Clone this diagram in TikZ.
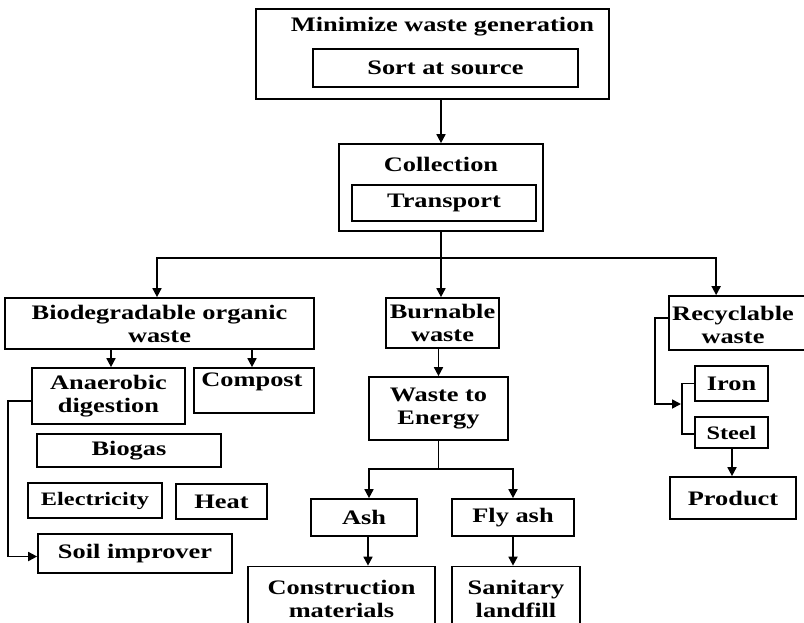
\documentclass[tikz,border=0pt]{standalone}
\usepackage{fontspec}
\setmainfont{Liberation Serif}[FakeStretch=1.28]
\usetikzlibrary{arrows.meta}
\begin{document}
\begin{tikzpicture}[x=1pt,y=-1pt,
  box/.style={draw, line width=1.7pt, inner sep=0pt, align=center},
  txt/.style={inner sep=0pt, align=center},
  arr/.style={-{Triangle[length=9pt,width=9pt]}, line width=1.7pt},
  ln/.style={line width=1.7pt},
  every node/.append style={font=\fontsize{20.6}{23}\selectfont\bfseries}]
\useasboundingbox[fill=white] (0,0) rectangle (804,622);
% top
\node[box, minimum width=353pt, minimum height=90pt] (top) at (432.5,54) {};
\node[txt] (toplbl) at (442.5,27) {Minimize waste generation};
\node[box, minimum width=265pt, minimum height=38pt] (sort) at (445.5,68) {Sort at source};
% collection
\node[box, minimum width=204pt, minimum height=87pt] (coll) at (441,187.5) {};
\node[txt] (colllbl) at (441,164) {Collection};
\node[box, minimum width=184pt, minimum height=36pt] (trans) at (444,203) {Transport};
% level 2
\node[box, minimum width=309pt, minimum height=51pt] (bio) at (159.5,323.5) {Biodegradable organic\\waste};
\node[box, minimum width=113pt, minimum height=50pt] (burn) at (442.5,323) {Burnable\\waste};
\node[box, minimum width=140pt, minimum height=54pt] (recy) at (739,323) {};
\node[txt] (recylbl) at (733,325) {Recyclable\\waste};
% biodegradable branch
\node[box, minimum width=153pt, minimum height=56pt] (anaer) at (108.5,396) {Anaerobic\\digestion};
\node[box, minimum width=120pt, minimum height=45pt] (comp) at (254,390.5) {};
\node[txt] (complbl) at (252,382) {Compost};
\node[box, minimum width=184pt, minimum height=33pt] (biogas) at (129,450.5) {Biogas};
\node[box, minimum width=134pt, minimum height=35pt, font=\fontsize{19}{22}\selectfont\bfseries] (elec) at (95,500.5) {Electricity};
\node[box, minimum width=91pt, minimum height=35pt] (heat) at (221.5,501.5) {Heat};
\node[box, minimum width=194pt, minimum height=39pt] (soil) at (135,553.5) {Soil improver};
% burnable branch
\node[box, minimum width=139pt, minimum height=63pt] (wte) at (438.5,408.5) {Waste to\\Energy};
\node[box, minimum width=106pt, minimum height=37pt] (ash) at (364,517.5) {Ash};
\node[box, minimum width=122pt, minimum height=37pt] (fly) at (513,517.5) {Fly ash};
\node[box, minimum width=187pt, minimum height=64pt] (constr) at (341.5,598.5) {Construction\\materials};
\node[box, minimum width=128pt, minimum height=64pt] (sanit) at (516,598.5) {Sanitary\\landfill};
% recyclable branch
\node[box, minimum width=73pt, minimum height=35pt] (iron) at (731.5,383.5) {Iron};
\node[box, minimum width=73pt, minimum height=31pt, font=\fontsize{19}{22}\selectfont\bfseries] (steel) at (731.5,432.5) {Steel};
\node[box, minimum width=126pt, minimum height=42pt] (prod) at (733,498) {Product};
% connectors
\draw[arr] (top.south -| coll.north) -- (coll.north);
\coordinate (j1) at (441,258);
\draw[ln] (coll.south) -- (j1);
\draw[arr] (j1) -| ([xshift=-2.5pt]bio.north);
\draw[arr] (j1) -- (j1 |- burn.north);
\draw[arr] (j1) -| ([xshift=48pt]recy.north west);
\draw[arr] ([xshift=2.5pt]anaer.north |- bio.south) -- ([xshift=2.5pt]anaer.north);
\draw[arr] ([xshift=-2pt]comp.north |- bio.south) -- ([xshift=-2pt]comp.north);
\draw[arr] ([yshift=-5pt]anaer.west) -- ++(-23,0) |- ([yshift=-3pt]soil.west);
\draw[arr] (burn.south -| wte.north) -- (wte.north);
\coordinate (j2) at (438.5,469);
\draw[ln] (wte.south) -- (j2);
\draw[arr] (j2) -| ([xshift=5pt]ash.north);
\draw[arr] (j2) -| (fly.north);
\draw[arr] ([xshift=4pt]ash.south) -- ([xshift=4pt]ash.south |- constr.north);
\draw[arr] (fly.south) -- (fly.south |- sanit.north);
\coordinate (rt) at (681,404);
\draw[arr] ([yshift=5pt]recy.west) -- ++(-13,0) |- (rt);
\draw[ln] (iron.west) -- ++(-12,0) |- ([yshift=-1.5pt]steel.west);
\draw[arr] ([xshift=-1pt]prod.north |- steel.south) -- ([xshift=-1pt]prod.north);
\end{tikzpicture}
\end{document}
